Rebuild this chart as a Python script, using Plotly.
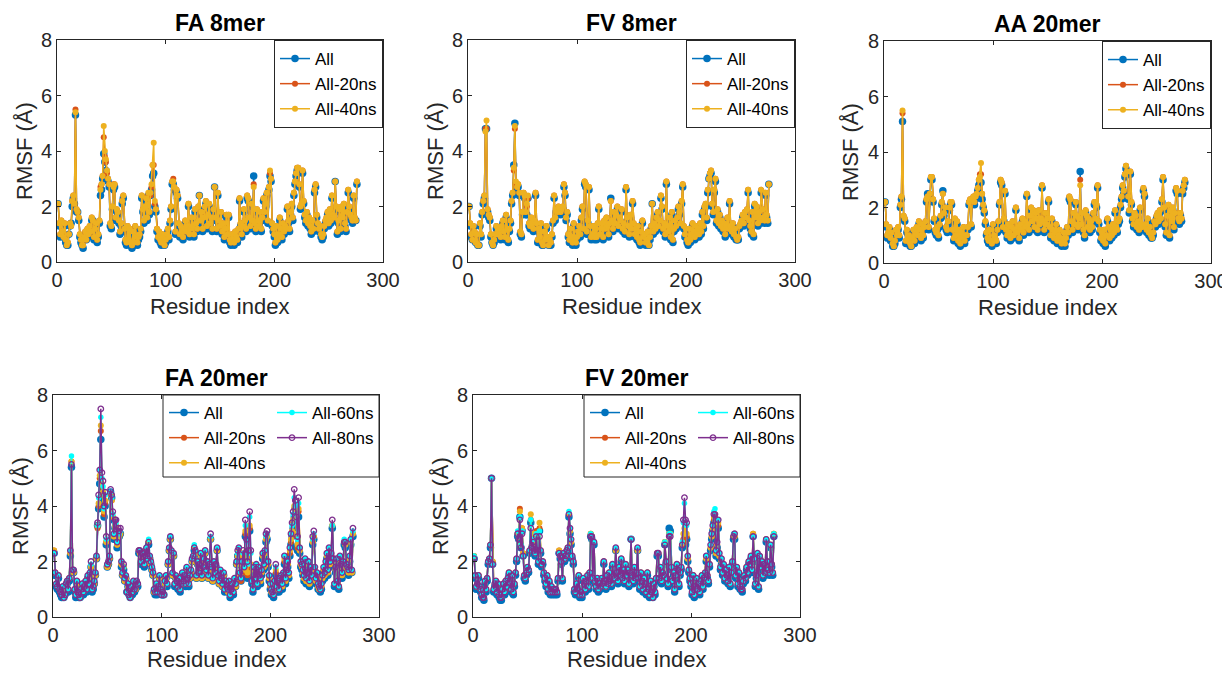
import plotly.graph_objects as go

#%% RMSF per residue (Angstrom)

fa8_all = [
    2.1, 1.3, 0.9, 1.4, 1.0, 0.9, 1.3, 0.7, 0.6, 0.6,
    1.0, 1.3, 1.4, 2.0, 2.3, 2.1, 5.3, 1.8, 1.8, 1.5,
    0.9, 0.7, 0.6, 0.5, 0.8, 1.0, 0.8, 1.1, 0.9, 1.2,
    1.0, 1.5, 1.5, 0.8, 1.1, 1.3, 0.7, 0.9, 1.4, 2.4,
    2.6, 3.0, 3.9, 3.6, 3.3, 3.0, 2.9, 2.7, 1.3, 1.2,
    1.9, 2.6, 2.7, 1.5, 1.8, 1.7, 1.4, 1.0, 1.3, 2.1,
    2.3, 1.1, 0.7, 0.6, 1.2, 0.8, 1.1, 0.6, 0.5, 1.0,
    0.6, 1.2, 0.8, 0.6, 0.8, 0.9, 1.1, 2.3, 1.8, 1.4,
    1.9, 2.2, 1.5, 2.4, 1.7, 2.4, 2.6, 3.1, 3.2, 2.0,
    1.8, 1.1, 0.8, 1.0, 0.7, 0.6, 0.9, 0.8, 0.6, 0.7,
    0.9, 1.1, 0.8, 1.4, 1.9, 2.8, 2.8, 2.6, 1.0, 2.5,
    2.3, 1.3, 0.9, 1.2, 1.0, 0.8, 1.1, 1.4, 1.0, 1.2,
    2.0, 0.9, 1.1, 1.5, 1.2, 0.9, 1.8, 1.3, 1.1, 1.9,
    2.4, 1.4, 1.7, 1.1, 1.5, 1.9, 2.1, 1.2, 1.6, 2.0,
    1.3, 1.5, 1.1, 1.8, 2.7, 1.5, 1.1, 2.4, 1.4, 1.2,
    1.7, 1.0, 1.3, 0.8, 1.1, 1.6, 0.9, 1.6, 0.7, 0.6,
    0.9, 0.7, 0.6, 1.0, 0.8, 0.7, 1.1, 2.2, 1.3, 0.9,
    1.2, 1.8, 1.4, 1.1, 2.3, 2.2, 1.5, 1.2, 2.0, 1.4,
    3.1, 1.3, 1.1, 1.8, 1.4, 1.2, 1.7, 1.1, 1.5, 2.2,
    1.7, 2.0, 2.4, 1.4, 2.6, 3.1, 2.9, 1.3, 1.1, 0.9,
    0.6, 1.2, 0.7, 0.9, 1.5, 1.1, 0.8, 1.3, 1.0, 1.2,
    1.1, 1.9, 1.4, 1.1, 1.7, 2.0, 1.5, 2.4, 2.8, 3.1,
    3.3, 3.3, 2.7, 1.9, 2.0, 3.2, 2.1, 1.6, 1.4, 1.7,
    1.3, 1.5, 1.2, 1.0, 1.4, 1.1, 2.5, 2.7, 1.6, 1.3,
    1.1, 1.2, 0.9, 0.8, 0.9, 1.2, 1.4, 1.5, 1.7, 1.3,
    1.8, 1.4, 2.3, 1.6, 1.5, 2.9, 1.9, 1.0, 1.4, 1.8,
    1.1, 1.9, 1.5, 2.0, 1.3, 1.1, 1.7, 2.5, 1.9, 1.6,
    1.5, 1.4, 2.3, 1.5, 1.5, 2.8]

fa8_20 = [
    2.1, 1.4, 1.0, 1.5, 1.1, 0.9, 1.4, 0.8, 0.6, 0.7,
    1.0, 1.4, 1.3, 2.2, 2.4, 2.1, 5.5, 1.9, 1.8, 1.6,
    1.0, 0.8, 0.6, 0.6, 0.9, 1.1, 0.8, 1.2, 1.0, 1.3,
    1.1, 1.6, 1.5, 0.9, 1.2, 1.4, 0.8, 1.0, 1.5, 2.7,
    2.8, 3.1, 4.5, 3.8, 3.6, 3.2, 3.0, 2.8, 1.4, 1.3,
    2.0, 2.8, 2.8, 1.6, 1.9, 1.8, 1.5, 1.1, 1.4, 2.2,
    2.4, 1.2, 0.8, 0.7, 1.3, 0.8, 1.2, 0.7, 0.6, 1.1,
    0.7, 1.3, 0.9, 0.7, 0.9, 1.0, 1.2, 2.4, 1.9, 1.5,
    2.0, 2.3, 1.6, 2.4, 1.8, 2.4, 2.7, 3.5, 3.5, 2.1,
    1.9, 1.2, 0.9, 1.1, 0.8, 0.7, 1.0, 0.9, 0.6, 0.8,
    1.0, 1.2, 0.9, 1.5, 2.0, 2.9, 3.0, 2.7, 1.1, 2.6,
    2.4, 1.4, 1.0, 1.3, 1.1, 0.9, 1.2, 1.5, 1.1, 1.3,
    2.1, 1.0, 1.2, 1.6, 1.3, 1.0, 1.9, 1.4, 1.2, 2.0,
    2.4, 1.5, 1.8, 1.2, 1.6, 2.0, 2.2, 1.3, 1.7, 2.1,
    1.4, 1.6, 1.2, 1.9, 2.7, 1.6, 1.2, 2.5, 1.5, 1.3,
    1.8, 1.1, 1.4, 0.9, 1.2, 1.7, 1.0, 1.7, 0.8, 0.7,
    1.0, 0.8, 0.7, 1.1, 0.9, 0.8, 1.2, 2.3, 1.4, 1.0,
    1.3, 1.9, 1.5, 1.2, 2.4, 2.3, 1.6, 1.3, 2.1, 1.5,
    2.8, 1.4, 1.2, 1.9, 1.5, 1.3, 1.8, 1.2, 1.6, 2.3,
    1.8, 2.1, 2.5, 1.5, 2.7, 3.2, 3.0, 1.4, 1.2, 1.0,
    0.7, 1.3, 0.8, 1.0, 1.6, 1.2, 0.9, 1.4, 1.1, 1.3,
    1.2, 2.0, 1.5, 1.2, 1.8, 2.1, 1.6, 2.5, 2.9, 3.2,
    3.4, 3.4, 2.8, 2.0, 2.1, 3.3, 2.2, 1.7, 1.5, 1.8,
    1.4, 1.6, 1.3, 1.1, 1.5, 1.2, 2.6, 2.8, 1.7, 1.4,
    1.2, 1.3, 1.0, 0.9, 1.0, 1.3, 1.5, 1.6, 1.8, 1.4,
    1.9, 1.5, 2.4, 1.7, 1.6, 2.9, 2.0, 1.1, 1.5, 1.9,
    1.2, 2.0, 1.6, 2.1, 1.4, 1.2, 1.8, 2.6, 2.0, 1.7,
    1.6, 1.5, 2.4, 1.6, 1.5, 2.9]

fa8_40 = [
    2.1, 1.4, 1.0, 1.5, 1.1, 0.9, 1.4, 0.8, 0.6, 0.7,
    1.0, 1.4, 1.3, 2.2, 2.4, 2.1, 5.4, 1.9, 1.8, 1.6,
    1.0, 0.8, 0.6, 0.6, 0.9, 1.1, 0.8, 1.2, 1.0, 1.3,
    1.1, 1.6, 1.5, 0.9, 1.2, 1.4, 0.8, 1.0, 1.5, 2.6,
    2.8, 3.1, 4.9, 4.0, 3.7, 3.3, 3.0, 2.8, 1.4, 1.3,
    2.0, 2.7, 2.8, 1.6, 1.9, 1.8, 1.5, 1.1, 1.4, 2.2,
    2.4, 1.2, 0.8, 0.7, 1.3, 0.8, 1.2, 0.7, 0.6, 1.1,
    0.7, 1.3, 0.9, 0.7, 0.9, 1.0, 1.2, 2.4, 1.9, 1.5,
    2.0, 2.3, 1.6, 2.5, 1.8, 2.5, 2.8, 3.5, 4.3, 2.2,
    1.9, 1.2, 0.9, 1.1, 0.8, 0.7, 1.0, 0.9, 0.6, 0.8,
    1.0, 1.2, 0.9, 1.5, 2.0, 2.9, 2.9, 2.7, 1.1, 2.6,
    2.4, 1.4, 1.0, 1.3, 1.1, 0.9, 1.2, 1.5, 1.1, 1.3,
    2.1, 1.0, 1.2, 1.6, 1.3, 1.0, 1.9, 1.4, 1.2, 2.0,
    2.4, 1.5, 1.8, 1.2, 1.6, 2.0, 2.2, 1.3, 1.7, 2.1,
    1.4, 1.6, 1.2, 1.9, 2.7, 1.6, 1.2, 2.5, 1.5, 1.3,
    1.8, 1.1, 1.4, 0.9, 1.2, 1.7, 1.0, 1.7, 0.8, 0.7,
    1.0, 0.8, 0.7, 1.1, 0.9, 0.8, 1.2, 2.3, 1.4, 1.0,
    1.3, 1.9, 1.5, 1.2, 2.4, 2.3, 1.6, 1.3, 2.1, 1.5,
    2.7, 1.4, 1.2, 1.9, 1.5, 1.3, 1.8, 1.2, 1.6, 2.3,
    1.8, 2.1, 2.5, 1.5, 2.7, 3.3, 3.0, 1.4, 1.2, 1.0,
    0.7, 1.3, 0.8, 1.0, 1.6, 1.2, 0.9, 1.4, 1.1, 1.3,
    1.2, 2.0, 1.5, 1.2, 1.8, 2.1, 1.6, 2.5, 2.9, 3.2,
    3.4, 3.4, 2.8, 2.0, 2.1, 3.3, 2.2, 1.7, 1.5, 1.8,
    1.4, 1.6, 1.3, 1.1, 1.5, 1.2, 2.6, 2.8, 1.7, 1.4,
    1.2, 1.3, 1.0, 0.9, 1.0, 1.3, 1.5, 1.6, 1.8, 1.4,
    1.9, 1.5, 2.4, 1.7, 1.6, 2.9, 2.0, 1.1, 1.5, 1.9,
    1.2, 2.0, 1.6, 2.1, 1.4, 1.2, 1.8, 2.6, 2.0, 1.7,
    1.6, 1.5, 2.4, 1.6, 1.5, 2.9]

fv8_all = [
    2.0, 1.3, 0.9, 0.8, 1.2, 1.0, 0.7, 0.9, 0.6, 0.6,
    1.3, 0.9, 1.7, 2.1, 2.3, 4.8, 4.8, 1.8, 1.6, 1.5,
    0.9, 0.7, 0.6, 0.7, 0.9, 1.2, 0.9, 1.0, 1.1, 0.8,
    1.2, 1.4, 1.0, 0.8, 1.6, 1.1, 0.7, 1.1, 1.4, 2.1,
    2.4, 3.5, 5.0, 2.8, 2.6, 2.7, 2.4, 1.0, 0.9, 1.7,
    2.4, 2.3, 1.7, 1.7, 2.3, 1.3, 1.2, 1.5, 1.3, 1.1,
    1.4, 2.4, 1.3, 0.7, 1.1, 0.8, 1.3, 0.6, 0.6, 1.0,
    0.7, 1.2, 0.8, 0.6, 0.7, 0.6, 0.9, 1.4, 2.3, 1.5,
    1.8, 1.7, 1.9, 1.8, 1.7, 1.8, 1.9, 2.7, 2.4, 1.5,
    1.7, 0.9, 0.7, 1.1, 0.8, 0.6, 1.3, 0.7, 0.6, 0.8,
    1.0, 1.2, 0.9, 1.5, 1.9, 1.1, 2.8, 2.7, 1.0, 1.4,
    2.6, 1.2, 0.8, 0.9, 1.2, 0.8, 1.1, 0.8, 1.3, 1.9,
    0.9, 1.1, 1.3, 0.8, 1.4, 1.1, 1.5, 1.2, 0.9, 1.3,
    2.3, 1.4, 1.1, 1.7, 1.3, 1.6, 1.9, 1.2, 1.5, 1.4,
    1.8, 1.1, 1.3, 1.0, 2.6, 1.5, 1.2, 0.9, 1.6, 1.1,
    2.1, 1.3, 0.9, 1.1, 0.8, 1.2, 0.7, 0.6, 1.0, 1.4,
    0.8, 0.9, 0.6, 0.7, 1.0, 0.6, 0.8, 1.2, 2.1, 1.0,
    1.3, 1.1, 1.5, 1.7, 1.2, 1.4, 2.3, 1.9, 1.1, 1.3,
    0.9, 2.8, 1.2, 1.0, 1.5, 0.8, 1.7, 0.7, 1.1, 1.4,
    1.2, 1.5, 1.9, 1.7, 1.3, 2.1, 2.7, 1.2, 0.9, 1.1,
    0.7, 0.6, 1.1, 0.7, 0.9, 1.3, 1.0, 0.8, 1.2, 0.9,
    1.1, 0.9, 1.3, 1.0, 1.7, 1.2, 1.9, 2.0, 1.5, 2.5,
    3.0, 3.1, 3.2, 2.0, 1.7, 2.5, 2.9, 1.4, 1.8, 1.3,
    1.6, 1.2, 1.4, 1.1, 1.3, 0.9, 1.2, 1.5, 1.1, 2.1,
    1.2, 1.0, 1.3, 0.9, 1.1, 0.8, 0.8, 0.8, 1.2, 1.3,
    1.4, 1.6, 1.3, 1.7, 1.5, 1.8, 2.5, 1.4, 1.2, 1.0,
    1.7, 0.9, 2.0, 1.5, 1.9, 1.3, 1.7, 1.4, 2.5, 1.8,
    1.5, 1.4, 2.4, 1.6, 1.4, 2.8]

fv8_20 = [
    2.0, 1.4, 1.0, 0.8, 1.3, 1.1, 0.7, 1.0, 0.6, 0.6,
    1.4, 1.0, 1.8, 2.2, 2.4, 4.8, 4.8, 1.9, 1.7, 1.6,
    1.0, 0.7, 0.6, 0.8, 1.0, 1.3, 1.0, 1.1, 1.2, 0.9,
    1.3, 1.5, 1.1, 0.9, 1.7, 1.2, 0.8, 1.2, 1.5, 2.2,
    2.5, 3.3, 4.8, 2.8, 2.7, 2.8, 2.5, 1.1, 1.0, 1.8,
    2.5, 2.4, 1.8, 2.0, 2.3, 1.4, 1.3, 1.6, 1.4, 1.2,
    1.5, 2.5, 1.4, 0.8, 1.2, 0.9, 1.4, 0.7, 0.6, 1.1,
    0.8, 1.3, 0.9, 0.6, 0.8, 0.7, 1.0, 1.5, 2.4, 1.6,
    1.9, 1.8, 2.0, 1.9, 1.8, 1.9, 2.0, 2.8, 2.5, 1.6,
    1.8, 1.0, 0.8, 1.2, 0.9, 0.7, 1.4, 0.8, 0.7, 0.9,
    1.1, 1.3, 1.0, 1.6, 2.0, 1.2, 2.9, 2.8, 1.1, 1.5,
    2.7, 1.3, 0.9, 1.0, 1.3, 0.9, 1.2, 0.9, 1.4, 2.0,
    1.0, 1.2, 1.4, 0.9, 1.5, 1.2, 1.6, 1.3, 1.0, 1.4,
    2.2, 1.5, 1.2, 1.8, 1.4, 1.7, 2.0, 1.3, 1.6, 1.5,
    1.9, 1.2, 1.4, 1.1, 2.7, 1.6, 1.3, 1.0, 1.7, 1.2,
    2.2, 1.4, 1.0, 1.2, 0.9, 1.3, 0.8, 0.7, 1.1, 1.5,
    0.9, 1.0, 0.7, 0.8, 1.1, 0.6, 0.9, 1.3, 2.1, 1.1,
    1.4, 1.2, 1.6, 1.8, 1.3, 1.5, 2.4, 2.0, 1.2, 1.4,
    1.0, 2.9, 1.3, 1.1, 1.6, 0.9, 1.8, 0.8, 1.2, 1.5,
    1.3, 1.6, 2.0, 1.8, 1.4, 2.2, 2.8, 1.3, 1.0, 1.2,
    0.8, 0.7, 1.2, 0.8, 1.0, 1.4, 1.1, 0.9, 1.3, 1.0,
    1.2, 1.0, 1.4, 1.1, 1.8, 1.3, 2.0, 2.1, 1.6, 2.6,
    3.0, 3.2, 3.3, 2.1, 1.8, 2.6, 3.0, 1.5, 1.9, 1.4,
    1.7, 1.3, 1.5, 1.2, 1.4, 1.0, 1.3, 1.6, 1.2, 2.2,
    1.3, 1.1, 1.4, 1.0, 1.2, 0.9, 0.8, 0.9, 1.3, 1.4,
    1.5, 1.7, 1.4, 1.8, 1.6, 1.9, 2.6, 1.5, 1.3, 1.1,
    1.8, 1.0, 2.1, 1.6, 2.0, 1.4, 1.8, 1.5, 2.6, 1.9,
    1.6, 1.5, 2.5, 1.7, 1.5, 2.8]

fv8_40 = [
    2.0, 1.4, 1.0, 0.8, 1.3, 1.1, 0.7, 1.0, 0.6, 0.6,
    1.4, 1.0, 1.8, 2.2, 2.4, 4.7, 5.1, 1.9, 1.7, 1.6,
    1.0, 0.7, 0.6, 0.8, 1.0, 1.3, 1.0, 1.1, 1.2, 0.9,
    1.3, 1.5, 1.1, 0.9, 1.7, 1.2, 0.8, 1.2, 1.5, 2.2,
    2.5, 3.4, 4.9, 2.9, 2.7, 2.8, 2.5, 1.1, 1.0, 1.8,
    2.5, 2.4, 1.8, 2.1, 2.4, 1.4, 1.3, 1.6, 1.4, 1.2,
    1.5, 2.5, 1.4, 0.8, 1.2, 0.9, 1.4, 0.7, 0.6, 1.1,
    0.8, 1.3, 0.9, 0.6, 0.8, 0.7, 1.0, 1.5, 2.4, 1.6,
    1.9, 1.8, 2.0, 1.9, 1.8, 1.9, 2.0, 2.8, 2.5, 1.6,
    1.8, 1.0, 0.8, 1.2, 0.9, 0.7, 1.4, 0.8, 0.7, 0.9,
    1.1, 1.3, 1.0, 1.6, 2.0, 1.2, 2.9, 2.8, 1.1, 1.5,
    2.7, 1.3, 0.9, 1.0, 1.3, 0.9, 1.2, 0.9, 1.4, 2.0,
    1.0, 1.2, 1.4, 0.9, 1.5, 1.2, 1.6, 1.3, 1.0, 1.4,
    2.2, 1.5, 1.2, 1.8, 1.4, 1.7, 2.0, 1.3, 1.6, 1.5,
    1.9, 1.2, 1.4, 1.1, 2.7, 1.6, 1.3, 1.0, 1.7, 1.2,
    2.2, 1.4, 1.0, 1.2, 0.9, 1.3, 0.8, 0.7, 1.1, 1.5,
    0.9, 1.0, 0.7, 0.8, 1.1, 0.6, 0.9, 1.3, 2.1, 1.1,
    1.4, 1.2, 1.6, 1.8, 1.3, 1.5, 2.4, 2.0, 1.2, 1.4,
    1.0, 2.9, 1.3, 1.1, 1.6, 0.9, 1.8, 0.8, 1.2, 1.5,
    1.3, 1.6, 2.0, 1.8, 1.4, 2.2, 2.8, 1.3, 1.0, 1.2,
    0.8, 0.7, 1.2, 0.8, 1.0, 1.4, 1.1, 0.9, 1.3, 1.0,
    1.2, 1.0, 1.4, 1.1, 1.8, 1.3, 2.0, 2.1, 1.6, 2.6,
    3.0, 3.2, 3.3, 2.1, 1.8, 2.6, 3.0, 1.5, 1.9, 1.4,
    1.7, 1.3, 1.5, 1.2, 1.4, 1.0, 1.3, 1.6, 1.2, 2.2,
    1.3, 1.1, 1.4, 1.0, 1.2, 0.9, 0.8, 0.9, 1.3, 1.4,
    1.5, 1.7, 1.4, 1.8, 1.6, 1.9, 2.6, 1.5, 1.3, 1.1,
    1.8, 1.0, 2.1, 1.6, 2.0, 1.4, 1.8, 1.5, 2.6, 1.9,
    1.6, 1.5, 2.5, 1.7, 1.5, 2.8]

aa20_all = [
    2.2, 1.3, 0.9, 1.0, 1.2, 0.8, 1.0, 0.6, 0.6, 0.7,
    1.1, 0.9, 1.2, 0.9, 2.0, 2.3, 5.1, 1.6, 1.5, 0.7,
    1.1, 0.7, 0.9, 0.6, 0.6, 0.8, 1.1, 0.7, 1.0, 1.2,
    0.9, 1.4, 1.1, 0.8, 1.3, 0.9, 1.2, 1.4, 2.2, 2.5,
    1.2, 2.4, 3.0, 3.0, 2.2, 1.5, 1.1, 1.0, 1.2, 0.9,
    1.3, 1.6, 2.1, 2.6, 1.7, 1.9, 1.2, 1.1, 1.4, 1.9,
    2.1, 2.1, 1.1, 0.8, 1.5, 0.9, 1.4, 0.7, 1.1, 0.6,
    1.0, 0.8, 1.2, 0.7, 0.9, 0.9, 1.2, 2.1, 2.2, 1.3,
    2.2, 2.3, 2.1, 2.3, 2.4, 2.6, 2.8, 2.9, 2.9, 2.3,
    2.0, 1.8, 1.4, 1.0, 0.8, 0.7, 1.1, 0.7, 0.6, 1.3,
    0.9, 0.8, 0.7, 1.1, 1.4, 2.1, 2.9, 2.8, 1.2, 1.5,
    2.5, 1.1, 0.9, 1.3, 1.0, 0.8, 1.2, 1.4, 0.9, 1.1,
    1.9, 1.0, 1.2, 0.8, 1.3, 1.1, 1.5, 1.0, 1.4, 1.2,
    2.4, 1.3, 1.1, 1.6, 1.9, 1.4, 1.8, 1.2, 1.7, 1.5,
    1.1, 1.8, 1.3, 1.5, 2.7, 1.4, 1.1, 1.7, 1.3, 1.5,
    2.2, 1.2, 0.9, 1.5, 1.1, 0.8, 1.0, 1.3, 0.7, 0.9,
    1.1, 0.8, 0.6, 0.7, 1.0, 0.6, 0.8, 1.2, 1.0, 2.3,
    2.2, 1.4, 1.1, 1.7, 1.3, 2.1, 1.6, 1.2, 1.5, 3.3,
    1.3, 1.7, 1.1, 0.9, 1.8, 1.6, 1.2, 1.5, 1.1, 1.4,
    1.2, 1.7, 2.1, 1.5, 2.0, 2.7, 1.4, 1.1, 0.8, 1.0,
    0.7, 1.1, 0.6, 0.9, 1.5, 1.2, 0.8, 1.1, 0.9, 1.3,
    1.0, 1.8, 1.2, 1.1, 1.4, 1.5, 2.0, 2.3, 2.7, 2.5,
    3.1, 3.4, 3.2, 2.3, 1.8, 3.2, 2.1, 1.5, 1.3, 1.7,
    1.6, 1.2, 1.4, 1.1, 1.9, 1.3, 1.2, 2.6, 2.4, 1.3,
    1.1, 1.5, 1.0, 1.2, 0.9, 0.9, 1.0, 1.4, 1.3, 1.6,
    1.7, 1.4, 1.8, 1.5, 2.2, 3.0, 1.9, 1.3, 1.0, 1.6,
    2.0, 0.9, 1.8, 1.4, 1.9, 1.2, 1.7, 2.6, 2.5, 1.5,
    1.4, 1.7, 1.5, 2.5, 2.7, 2.9]

aa20_20 = [
    2.2, 1.4, 1.0, 1.1, 1.3, 0.9, 1.1, 0.7, 0.6, 0.8,
    1.2, 1.0, 1.3, 1.0, 2.1, 2.4, 5.4, 1.7, 1.6, 0.8,
    1.2, 0.8, 1.0, 0.7, 0.6, 0.9, 1.2, 0.8, 1.1, 1.3,
    1.0, 1.5, 1.2, 0.9, 1.4, 1.0, 1.3, 1.5, 2.3, 2.4,
    1.3, 2.5, 3.1, 3.1, 2.3, 1.6, 1.2, 1.1, 1.3, 1.0,
    1.4, 1.7, 2.2, 2.5, 1.8, 2.0, 1.3, 1.2, 1.5, 2.0,
    2.2, 2.2, 1.2, 0.9, 1.6, 1.0, 1.5, 0.8, 1.2, 0.7,
    1.1, 0.9, 1.3, 0.8, 1.0, 1.0, 1.3, 2.2, 2.3, 1.4,
    2.3, 2.4, 2.2, 2.4, 2.5, 2.7, 3.0, 3.2, 3.2, 2.5,
    2.1, 1.9, 1.5, 1.1, 0.9, 0.8, 1.2, 0.8, 0.7, 1.4,
    1.0, 0.9, 0.8, 1.2, 1.5, 2.2, 3.0, 2.9, 1.3, 1.6,
    2.6, 1.2, 1.0, 1.4, 1.1, 0.9, 1.3, 1.5, 1.0, 1.2,
    2.0, 1.1, 1.3, 0.9, 1.4, 1.2, 1.6, 1.1, 1.5, 1.3,
    2.5, 1.4, 1.2, 1.7, 2.0, 1.5, 1.9, 1.3, 1.8, 1.6,
    1.2, 1.9, 1.4, 1.6, 2.8, 1.5, 1.2, 1.8, 1.4, 1.6,
    2.3, 1.3, 1.0, 1.6, 1.2, 0.9, 1.1, 1.4, 0.8, 1.0,
    1.2, 0.9, 0.7, 0.8, 1.1, 0.7, 0.9, 1.3, 1.1, 2.4,
    2.3, 1.5, 1.2, 1.8, 1.4, 2.2, 1.7, 1.3, 1.6, 3.0,
    1.4, 1.8, 1.2, 1.0, 1.9, 1.7, 1.3, 1.6, 1.2, 1.5,
    1.3, 1.8, 2.2, 1.6, 2.1, 2.8, 1.5, 1.2, 0.9, 1.1,
    0.8, 1.2, 0.7, 1.0, 1.6, 1.3, 0.9, 1.2, 1.0, 1.4,
    1.1, 1.9, 1.3, 1.2, 1.5, 1.6, 2.1, 2.4, 2.8, 2.6,
    3.2, 3.5, 3.3, 2.4, 1.9, 3.3, 2.2, 1.6, 1.4, 1.8,
    1.7, 1.3, 1.5, 1.2, 2.0, 1.4, 1.3, 2.7, 2.5, 1.4,
    1.2, 1.6, 1.1, 1.3, 1.0, 0.9, 1.1, 1.5, 1.4, 1.7,
    1.8, 1.5, 1.9, 1.6, 2.3, 3.1, 2.0, 1.4, 1.1, 1.7,
    2.1, 1.0, 1.9, 1.5, 2.0, 1.3, 1.8, 2.7, 2.6, 1.6,
    1.5, 1.8, 1.6, 2.6, 2.8, 3.0]

aa20_40 = [
    2.2, 1.4, 1.0, 1.1, 1.3, 0.9, 1.1, 0.7, 0.6, 0.8,
    1.2, 1.0, 1.3, 1.0, 2.1, 2.4, 5.5, 1.7, 1.6, 0.8,
    1.2, 0.8, 1.0, 0.7, 0.6, 0.9, 1.2, 0.8, 1.1, 1.3,
    1.0, 1.5, 1.2, 0.9, 1.4, 1.0, 1.3, 1.5, 2.3, 2.4,
    1.3, 2.5, 3.1, 3.1, 2.3, 1.6, 1.2, 1.1, 1.3, 1.0,
    1.4, 1.7, 2.2, 2.5, 1.8, 2.0, 1.3, 1.2, 1.5, 2.0,
    2.2, 2.2, 1.2, 0.9, 1.6, 1.0, 1.5, 0.8, 1.2, 0.7,
    1.1, 0.9, 1.3, 0.8, 1.0, 1.0, 1.3, 2.2, 2.3, 1.4,
    2.3, 2.4, 2.2, 2.4, 2.5, 2.7, 3.0, 3.1, 3.6, 2.5,
    2.1, 1.9, 1.5, 1.1, 0.9, 0.8, 1.2, 0.8, 0.7, 1.4,
    1.0, 0.9, 0.8, 1.2, 1.5, 2.2, 3.0, 2.9, 1.3, 1.6,
    2.6, 1.2, 1.0, 1.4, 1.1, 0.9, 1.3, 1.5, 1.0, 1.2,
    2.0, 1.1, 1.3, 0.9, 1.4, 1.2, 1.6, 1.1, 1.5, 1.3,
    2.5, 1.4, 1.2, 1.7, 2.0, 1.5, 1.9, 1.3, 1.8, 1.6,
    1.2, 1.9, 1.4, 1.6, 2.8, 1.5, 1.2, 1.8, 1.4, 1.6,
    2.3, 1.3, 1.0, 1.6, 1.2, 0.9, 1.1, 1.4, 0.8, 1.0,
    1.2, 0.9, 0.7, 0.8, 1.1, 0.7, 0.9, 1.3, 1.1, 2.4,
    2.3, 1.5, 1.2, 1.8, 1.4, 2.2, 1.7, 1.3, 1.6, 2.8,
    1.4, 1.8, 1.2, 1.0, 1.9, 1.7, 1.3, 1.6, 1.2, 1.5,
    1.3, 1.8, 2.2, 1.6, 2.1, 2.8, 1.5, 1.2, 0.9, 1.1,
    0.8, 1.2, 0.7, 1.0, 1.6, 1.3, 0.9, 1.2, 1.0, 1.4,
    1.1, 1.9, 1.3, 1.2, 1.5, 1.6, 2.1, 2.4, 2.8, 2.6,
    3.2, 3.5, 3.3, 2.4, 1.9, 3.3, 2.2, 1.6, 1.4, 1.8,
    1.7, 1.3, 1.5, 1.2, 2.0, 1.4, 1.3, 2.7, 2.5, 1.4,
    1.2, 1.6, 1.1, 1.3, 1.0, 0.9, 1.1, 1.5, 1.4, 1.7,
    1.8, 1.5, 1.9, 1.6, 2.3, 3.1, 2.0, 1.4, 1.1, 1.7,
    2.1, 1.0, 1.9, 1.5, 2.0, 1.3, 1.8, 2.7, 2.6, 1.6,
    1.5, 1.8, 1.6, 2.6, 2.8, 3.0]

fa20_all = [
    2.3, 1.5, 1.1, 1.0, 1.4, 0.9, 0.8, 0.7, 1.0, 0.7,
    0.8, 1.1, 1.2, 0.9, 1.3, 2.2, 5.4, 1.6, 1.6, 0.9,
    0.7, 1.2, 0.8, 0.7, 0.7, 0.9, 1.1, 0.8, 1.0, 1.2,
    0.9, 1.4, 1.1, 1.5, 1.8, 0.9, 1.0, 1.2, 1.5, 2.1,
    3.3, 3.9, 4.8, 6.4, 4.5, 4.2, 3.6, 4.0, 2.6, 1.8,
    1.9, 2.1, 4.5, 4.3, 3.5, 2.8, 3.2, 3.1, 2.5, 2.9,
    2.9, 3.0, 1.8, 1.5, 1.7, 1.3, 1.4, 0.9, 1.1, 0.8,
    0.7, 1.0, 0.8, 1.2, 0.9, 1.0, 1.2, 1.1, 2.3, 2.3,
    1.9, 2.2, 2.2, 1.8, 2.1, 2.4, 2.0, 2.6, 2.1, 1.9,
    1.7, 1.5, 0.9, 0.8, 1.1, 0.8, 1.0, 1.4, 0.9, 0.8,
    0.8, 0.8, 1.2, 1.4, 1.1, 1.9, 2.4, 2.8, 2.3, 1.5,
    2.2, 1.1, 1.4, 1.2, 1.0, 1.3, 0.9, 1.1, 1.5, 1.2,
    1.4, 1.1, 1.7, 1.3, 1.1, 1.4, 1.6, 2.0, 2.1, 2.4,
    2.3, 1.4, 1.9, 1.5, 1.8, 2.2, 1.4, 1.7, 2.0, 2.3,
    1.6, 1.9, 1.4, 1.8, 2.8, 1.7, 1.3, 1.9, 1.5, 1.8,
    2.4, 1.4, 1.2, 1.6, 1.3, 1.1, 1.5, 0.9, 1.2, 1.0,
    0.9, 1.2, 0.7, 0.9, 1.1, 0.8, 1.3, 1.1, 1.9, 2.2,
    2.3, 1.5, 1.3, 1.8, 2.0, 1.5, 2.9, 2.0, 1.4, 1.7,
    3.1, 1.5, 1.2, 0.9, 1.6, 1.2, 1.7, 1.1, 1.6, 1.3,
    1.2, 1.5, 2.1, 1.7, 2.2, 2.7, 2.8, 1.8, 1.3, 1.0,
    0.8, 0.8, 0.7, 1.1, 1.5, 0.9, 1.1, 0.9, 1.2, 1.3,
    1.0, 1.4, 1.9, 1.2, 1.5, 1.8, 1.4, 2.2, 2.6, 2.9,
    3.2, 3.6, 3.4, 2.5, 2.4, 3.6, 2.3, 1.8, 1.7, 1.5,
    1.3, 1.9, 1.2, 1.4, 1.8, 1.1, 1.6, 1.3, 2.6, 2.8,
    1.6, 1.2, 1.4, 1.0, 1.0, 0.9, 1.0, 1.3, 1.6, 1.4,
    1.8, 2.1, 1.5, 2.3, 1.8, 2.1, 3.2, 1.9, 1.1, 1.6,
    1.9, 1.1, 1.0, 2.0, 1.7, 1.4, 1.8, 2.6, 2.5, 1.7,
    1.6, 1.5, 2.0, 2.6, 1.6, 2.9]

fa20_20 = [
    2.4, 1.6, 1.2, 1.1, 1.5, 1.0, 0.9, 0.8, 1.0, 0.7,
    0.8, 1.2, 1.3, 1.0, 1.4, 2.3, 5.6, 1.7, 1.6, 1.0,
    0.8, 1.2, 0.9, 0.8, 0.7, 1.0, 1.2, 0.9, 1.1, 1.2,
    1.0, 1.4, 1.2, 1.5, 1.8, 1.0, 1.1, 1.2, 1.5, 2.1,
    3.2, 4.0, 5.0, 6.7, 4.7, 4.4, 3.7, 4.1, 2.7, 1.8,
    1.9, 2.1, 4.4, 4.2, 3.6, 2.9, 3.3, 3.2, 2.6, 3.0,
    2.9, 3.0, 1.9, 1.5, 1.8, 1.3, 1.4, 0.9, 1.1, 0.8,
    0.7, 1.0, 0.9, 1.2, 1.0, 1.0, 1.2, 1.2, 2.4, 2.3,
    2.0, 2.2, 2.3, 1.9, 2.1, 2.4, 2.0, 2.7, 2.1, 1.9,
    1.7, 1.5, 0.9, 0.9, 1.1, 0.9, 1.0, 1.4, 0.9, 0.8,
    0.9, 0.8, 1.2, 1.4, 1.2, 1.9, 2.4, 2.8, 2.3, 1.5,
    2.2, 1.2, 1.4, 1.2, 1.1, 1.3, 1.0, 1.2, 1.5, 1.3,
    1.4, 1.2, 1.7, 1.3, 1.2, 1.4, 1.6, 2.0, 2.1, 2.5,
    2.3, 1.4, 1.9, 1.5, 1.8, 2.2, 1.4, 1.7, 2.0, 2.3,
    1.6, 1.9, 1.4, 1.8, 2.8, 1.7, 1.3, 1.9, 1.5, 1.8,
    2.4, 1.4, 1.2, 1.6, 1.3, 1.1, 1.5, 1.0, 1.2, 1.0,
    0.9, 1.2, 0.8, 0.9, 1.1, 0.9, 1.3, 1.1, 1.9, 2.2,
    2.4, 1.5, 1.3, 1.8, 2.1, 1.6, 3.0, 2.2, 1.5, 1.9,
    3.2, 1.7, 1.3, 1.0, 1.7, 1.3, 1.8, 1.2, 1.7, 1.4,
    1.3, 1.6, 2.2, 1.8, 2.3, 2.8, 2.9, 1.9, 1.4, 1.1,
    0.9, 0.9, 0.8, 1.2, 1.6, 1.0, 1.2, 1.0, 1.3, 1.4,
    1.1, 1.5, 2.0, 1.3, 1.6, 1.9, 1.5, 2.3, 2.7, 3.0,
    3.4, 3.9, 3.6, 2.9, 2.5, 3.8, 2.4, 1.9, 1.8, 1.6,
    1.4, 2.0, 1.3, 1.5, 1.9, 1.2, 1.7, 1.4, 2.7, 2.9,
    1.7, 1.3, 1.5, 1.1, 1.0, 1.0, 1.1, 1.4, 1.7, 1.5,
    1.9, 2.2, 1.6, 2.4, 1.9, 2.2, 3.3, 2.0, 1.2, 1.7,
    2.0, 1.2, 1.1, 2.1, 1.8, 1.5, 1.9, 2.7, 2.6, 1.8,
    1.7, 1.6, 2.1, 2.7, 1.6, 3.0]

fa20_40 = [
    2.4, 1.6, 1.2, 1.1, 1.5, 1.0, 0.9, 0.8, 1.0, 0.7,
    0.8, 1.2, 1.3, 1.0, 1.4, 2.3, 5.6, 1.7, 1.6, 1.0,
    0.8, 1.2, 0.9, 0.8, 0.7, 1.0, 1.2, 0.9, 1.1, 1.2,
    1.0, 1.4, 1.2, 1.5, 1.8, 1.0, 1.1, 1.2, 1.5, 2.1,
    3.3, 4.1, 5.1, 6.9, 4.8, 4.5, 3.8, 4.2, 2.7, 1.8,
    1.9, 2.1, 4.4, 4.2, 3.6, 2.9, 3.3, 3.3, 2.6, 3.0,
    2.9, 3.0, 1.9, 1.5, 1.8, 1.3, 1.4, 0.9, 1.1, 0.8,
    0.7, 1.0, 0.9, 1.2, 1.0, 1.0, 1.2, 1.2, 2.4, 2.3,
    2.0, 2.2, 2.3, 1.9, 2.1, 2.4, 2.0, 2.7, 2.1, 1.9,
    1.7, 1.5, 0.9, 0.9, 1.1, 0.9, 1.0, 1.4, 0.9, 0.8,
    0.9, 0.8, 1.2, 1.4, 1.2, 1.9, 2.4, 2.8, 2.3, 1.5,
    2.2, 1.2, 1.4, 1.2, 1.1, 1.3, 1.0, 1.2, 1.5, 1.3,
    1.4, 1.2, 1.7, 1.3, 1.2, 1.4, 1.6, 2.0, 2.1, 2.5,
    2.3, 1.4, 1.9, 1.5, 1.8, 2.2, 1.4, 1.7, 2.0, 2.3,
    1.6, 1.9, 1.4, 1.8, 2.8, 1.7, 1.3, 1.9, 1.5, 1.8,
    2.4, 1.4, 1.2, 1.6, 1.3, 1.1, 1.5, 1.0, 1.2, 1.0,
    0.9, 1.2, 0.8, 0.9, 1.1, 0.9, 1.3, 1.1, 1.9, 2.2,
    2.4, 1.5, 1.4, 1.9, 2.2, 1.7, 3.1, 2.4, 1.6, 2.0,
    3.3, 1.9, 1.3, 1.0, 1.7, 1.3, 1.8, 1.2, 1.7, 1.4,
    1.3, 1.6, 2.2, 1.8, 2.3, 2.8, 2.9, 1.9, 1.4, 1.1,
    0.9, 0.9, 0.8, 1.2, 1.7, 1.0, 1.2, 1.0, 1.3, 1.4,
    1.1, 1.5, 2.1, 1.3, 1.6, 1.9, 1.5, 2.4, 2.8, 3.1,
    3.5, 4.0, 3.7, 3.0, 2.6, 3.9, 2.4, 1.9, 1.8, 1.6,
    1.4, 2.0, 1.3, 1.5, 1.9, 1.2, 1.7, 1.4, 2.7, 2.9,
    1.7, 1.3, 1.5, 1.1, 1.0, 1.0, 1.1, 1.4, 1.7, 1.5,
    1.9, 2.2, 1.6, 2.4, 1.9, 2.2, 3.3, 2.0, 1.2, 1.7,
    2.0, 1.2, 1.1, 2.1, 1.8, 1.5, 1.9, 2.7, 2.6, 1.8,
    1.7, 1.6, 2.1, 2.7, 1.6, 3.0]

fa20_60 = [
    2.3, 1.6, 1.2, 1.1, 1.5, 1.0, 0.9, 0.8, 1.1, 0.7,
    0.8, 1.2, 1.3, 1.0, 1.4, 2.4, 5.8, 1.7, 1.7, 1.0,
    0.8, 1.3, 0.9, 0.8, 0.7, 1.0, 1.2, 0.9, 1.1, 1.3,
    1.0, 1.5, 1.2, 1.6, 1.9, 1.0, 1.1, 1.3, 1.6, 2.2,
    3.3, 4.3, 5.3, 7.2, 5.0, 4.7, 3.9, 4.4, 2.8, 1.9,
    2.0, 2.2, 4.5, 4.3, 3.7, 3.0, 3.4, 3.4, 2.7, 3.1,
    3.0, 3.1, 2.0, 1.6, 1.8, 1.4, 1.5, 0.9, 1.2, 0.8,
    0.7, 1.1, 0.9, 1.3, 1.0, 1.1, 1.3, 1.2, 2.4, 2.4,
    2.0, 2.3, 2.3, 1.9, 2.2, 2.5, 2.1, 2.8, 2.2, 2.0,
    1.8, 1.6, 1.0, 0.9, 1.2, 0.9, 1.1, 1.5, 1.0, 0.8,
    0.9, 0.8, 1.3, 1.5, 1.2, 2.0, 2.5, 2.9, 2.4, 1.6,
    2.3, 1.2, 1.5, 1.3, 1.1, 1.4, 1.0, 1.2, 1.6, 1.3,
    1.5, 1.2, 1.8, 1.4, 1.2, 1.5, 1.7, 2.1, 2.2, 2.6,
    2.4, 1.5, 2.0, 1.6, 1.9, 2.3, 1.5, 1.8, 2.1, 2.4,
    1.7, 2.0, 1.5, 1.9, 2.9, 1.8, 1.4, 2.0, 1.6, 1.9,
    2.5, 1.5, 1.3, 1.7, 1.4, 1.2, 1.6, 1.0, 1.3, 1.1,
    1.0, 1.3, 0.8, 1.0, 1.2, 0.9, 1.4, 1.2, 2.0, 2.3,
    2.5, 1.6, 1.4, 2.0, 2.3, 1.8, 3.3, 2.7, 1.9, 2.3,
    3.6, 2.3, 1.3, 1.0, 1.8, 1.4, 1.9, 1.2, 1.8, 1.5,
    1.4, 1.7, 2.3, 1.9, 2.4, 2.9, 3.0, 2.0, 1.5, 1.2,
    1.0, 0.9, 0.8, 1.3, 1.8, 1.1, 1.3, 1.0, 1.4, 1.5,
    1.2, 1.6, 2.2, 1.4, 1.7, 2.0, 1.6, 2.5, 3.0, 3.3,
    3.7, 4.3, 4.0, 3.4, 2.8, 4.1, 2.5, 2.0, 1.9, 1.7,
    1.5, 2.1, 1.4, 1.6, 2.0, 1.3, 1.8, 1.5, 2.8, 3.0,
    1.8, 1.4, 1.6, 1.2, 1.1, 1.0, 1.2, 1.5, 1.8, 1.6,
    2.0, 2.3, 1.7, 2.5, 2.0, 2.3, 3.3, 2.1, 1.2, 1.8,
    2.1, 1.3, 1.1, 2.2, 1.9, 1.6, 2.0, 2.8, 2.7, 1.9,
    1.8, 1.7, 2.2, 2.8, 1.7, 3.1]

fa20_80 = [
    2.3, 1.6, 1.2, 1.1, 1.5, 1.0, 0.9, 0.8, 1.1, 0.7,
    0.8, 1.2, 1.3, 1.0, 1.4, 2.4, 5.5, 1.7, 1.7, 1.0,
    0.8, 1.3, 0.9, 0.8, 0.7, 1.0, 1.2, 0.9, 1.1, 1.3,
    1.0, 1.5, 1.2, 1.6, 2.0, 1.0, 1.1, 1.3, 1.6, 2.2,
    3.4, 4.4, 5.3, 7.5, 5.2, 4.9, 4.0, 4.5, 2.9, 1.9,
    2.0, 2.2, 4.6, 4.4, 3.8, 3.0, 3.5, 3.5, 2.7, 3.2,
    3.1, 3.2, 2.0, 1.6, 1.9, 1.4, 1.5, 0.9, 1.2, 0.8,
    0.7, 1.1, 0.9, 1.3, 1.0, 1.1, 1.3, 1.2, 2.4, 2.4,
    2.0, 2.3, 2.3, 1.9, 2.2, 2.5, 2.1, 2.7, 2.2, 2.0,
    1.8, 1.6, 1.0, 0.9, 1.2, 0.9, 1.1, 1.5, 1.0, 0.8,
    0.9, 0.8, 1.3, 1.5, 1.2, 2.0, 2.5, 2.9, 2.4, 1.6,
    2.3, 1.2, 1.5, 1.3, 1.1, 1.4, 1.0, 1.2, 1.6, 1.3,
    1.5, 1.2, 1.8, 1.4, 1.2, 1.5, 1.7, 2.1, 2.2, 2.5,
    2.4, 1.5, 2.0, 1.6, 1.9, 2.3, 1.5, 1.8, 2.1, 2.4,
    1.7, 2.0, 1.5, 1.9, 3.0, 1.8, 1.4, 2.0, 1.6, 1.9,
    2.5, 1.5, 1.3, 1.7, 1.4, 1.2, 1.6, 1.0, 1.3, 1.1,
    1.0, 1.3, 0.8, 1.0, 1.2, 0.9, 1.4, 1.2, 2.0, 2.4,
    2.5, 1.6, 1.4, 2.0, 2.4, 1.8, 3.5, 2.8, 2.0, 2.4,
    3.8, 2.4, 1.3, 1.0, 1.8, 1.4, 1.9, 1.2, 1.8, 1.5,
    1.4, 1.7, 2.3, 1.9, 2.4, 3.0, 3.1, 2.0, 1.5, 1.2,
    1.0, 0.9, 0.8, 1.3, 1.9, 1.1, 1.3, 1.0, 1.4, 1.5,
    1.2, 1.6, 2.2, 1.4, 1.7, 2.0, 1.6, 2.5, 3.0, 3.4,
    3.8, 4.6, 4.2, 3.6, 2.9, 4.3, 2.5, 2.0, 1.9, 1.7,
    1.5, 2.1, 1.4, 1.6, 2.0, 1.3, 1.8, 1.5, 2.9, 3.1,
    1.8, 1.4, 1.6, 1.2, 1.1, 1.0, 1.2, 1.5, 1.8, 1.6,
    2.0, 2.3, 1.7, 2.5, 2.0, 2.3, 3.5, 2.1, 1.2, 1.8,
    2.1, 1.3, 1.1, 2.2, 1.9, 1.6, 2.0, 2.7, 2.7, 1.9,
    1.8, 1.7, 2.2, 2.8, 1.7, 3.2]

fv20_all = [
    2.1, 1.4, 1.0, 1.1, 1.4, 1.0, 0.9, 0.7, 0.7, 0.6,
    1.2, 0.9, 1.3, 1.9, 2.0, 2.5, 5.0, 1.9, 0.9, 1.1,
    1.2, 0.8, 1.1, 0.7, 0.6, 0.6, 0.9, 1.1, 0.8, 1.2,
    1.0, 1.3, 1.5, 1.1, 0.9, 1.4, 0.8, 1.1, 1.5, 2.0,
    2.9, 2.8, 3.6, 2.5, 3.1, 2.2, 1.4, 1.3, 1.5, 1.7,
    1.6, 2.3, 3.4, 2.5, 2.8, 2.4, 2.2, 2.9, 2.3, 1.9,
    3.1, 2.3, 1.8, 1.9, 1.5, 1.3, 1.1, 1.4, 0.9, 1.2,
    0.8, 1.0, 0.8, 0.9, 0.8, 0.9, 0.8, 1.3, 2.3, 2.1,
    1.9, 1.3, 2.2, 2.0, 2.1, 2.3, 2.4, 3.6, 3.0, 2.6,
    2.1, 1.9, 0.9, 0.8, 1.1, 0.9, 1.4, 0.7, 0.8, 0.7,
    1.3, 1.1, 0.9, 1.2, 1.4, 1.0, 1.5, 2.9, 2.8, 1.3,
    2.6, 1.2, 1.0, 1.3, 0.9, 1.1, 1.0, 1.3, 1.1, 1.9,
    1.2, 1.0, 1.4, 1.1, 1.5, 1.2, 1.1, 1.8, 1.4, 1.3,
    2.4, 1.5, 1.2, 1.7, 1.4, 2.0, 1.3, 1.6, 1.2, 1.8,
    1.4, 1.6, 1.1, 1.5, 2.8, 1.4, 1.2, 1.7, 1.3, 1.5,
    2.4, 1.3, 1.0, 1.5, 1.2, 0.9, 1.3, 1.1, 0.8, 1.5,
    0.9, 0.7, 1.2, 0.8, 0.7, 1.1, 0.8, 1.3, 2.2, 2.2,
    1.3, 1.7, 1.2, 1.5, 1.4, 2.6, 1.9, 1.3, 1.1, 3.2,
    3.1, 1.7, 1.2, 1.5, 0.9, 1.4, 1.8, 1.6, 1.1, 1.5,
    1.7, 2.5, 2.6, 2.7, 2.6, 2.8, 2.0, 1.6, 1.3, 1.1,
    0.8, 1.4, 0.7, 1.0, 1.3, 0.9, 1.1, 0.8, 1.2, 1.4,
    1.0, 1.3, 1.5, 2.0, 1.4, 1.2, 1.8, 2.4, 2.8, 3.1,
    3.4, 3.5, 2.2, 2.5, 3.2, 2.1, 1.7, 1.9, 1.5, 1.7,
    1.3, 1.6, 1.4, 1.2, 1.7, 1.1, 1.5, 1.9, 2.8, 2.8,
    1.4, 1.7, 1.1, 1.5, 1.0, 1.0, 0.9, 1.2, 1.4, 1.3,
    1.7, 1.5, 1.9, 1.8, 2.1, 1.6, 2.9, 2.0, 1.1, 1.4,
    2.1, 1.0, 2.1, 1.7, 1.9, 1.4, 1.8, 1.5, 2.7, 1.9,
    1.6, 1.5, 2.5, 1.8, 1.5, 2.9]

fv20_20 = [
    2.2, 1.5, 1.1, 1.2, 1.5, 1.1, 1.0, 0.8, 0.7, 0.7,
    1.3, 1.0, 1.4, 2.0, 2.1, 2.6, 5.0, 2.0, 1.0, 1.2,
    1.3, 0.9, 1.2, 0.8, 0.7, 0.7, 1.0, 1.2, 0.9, 1.3,
    1.1, 1.4, 1.6, 1.2, 1.0, 1.5, 0.9, 1.2, 1.6, 2.1,
    3.0, 2.9, 3.9, 2.6, 3.2, 2.3, 1.5, 1.4, 1.6, 1.8,
    1.7, 2.4, 3.5, 2.6, 2.9, 2.5, 2.3, 3.1, 2.4, 2.0,
    3.2, 2.4, 1.9, 2.0, 1.6, 1.4, 1.2, 1.5, 1.0, 1.3,
    0.9, 1.1, 0.9, 1.0, 0.9, 1.0, 0.9, 1.4, 2.4, 2.2,
    2.0, 1.4, 2.3, 2.1, 2.2, 2.4, 2.5, 3.7, 3.1, 2.7,
    2.2, 2.0, 1.0, 0.9, 1.2, 1.0, 1.5, 0.8, 0.9, 0.8,
    1.4, 1.2, 1.0, 1.3, 1.5, 1.1, 1.6, 3.0, 2.9, 1.4,
    2.7, 1.3, 1.1, 1.4, 1.0, 1.2, 1.1, 1.4, 1.2, 2.0,
    1.3, 1.1, 1.5, 1.2, 1.6, 1.3, 1.2, 1.9, 1.5, 1.4,
    2.4, 1.6, 1.3, 1.8, 1.5, 2.1, 1.4, 1.7, 1.3, 1.9,
    1.5, 1.7, 1.2, 1.6, 2.8, 1.5, 1.3, 1.8, 1.4, 1.6,
    2.4, 1.4, 1.1, 1.6, 1.3, 1.0, 1.4, 1.2, 0.9, 1.6,
    1.0, 0.8, 1.3, 0.9, 0.7, 1.2, 0.9, 1.4, 2.3, 2.3,
    1.4, 1.8, 1.3, 1.6, 1.5, 2.7, 2.0, 1.4, 1.2, 3.0,
    3.0, 1.8, 1.3, 1.6, 1.0, 1.5, 1.9, 1.7, 1.2, 1.6,
    1.8, 2.6, 2.8, 2.9, 2.7, 2.9, 2.1, 1.7, 1.4, 1.2,
    0.9, 1.5, 0.8, 1.1, 1.4, 1.0, 1.2, 0.9, 1.3, 1.5,
    1.1, 1.4, 1.6, 2.1, 1.5, 1.3, 1.9, 2.5, 2.9, 3.2,
    3.5, 3.6, 2.3, 2.6, 3.3, 2.2, 1.8, 2.0, 1.6, 1.8,
    1.4, 1.7, 1.5, 1.3, 1.8, 1.2, 1.6, 2.0, 2.9, 2.9,
    1.5, 1.8, 1.2, 1.6, 1.1, 1.0, 1.0, 1.3, 1.5, 1.4,
    1.8, 1.6, 2.0, 1.9, 2.2, 1.7, 3.0, 2.1, 1.2, 1.5,
    2.2, 1.1, 2.2, 1.8, 2.0, 1.5, 1.9, 1.6, 2.8, 2.0,
    1.7, 1.6, 2.6, 1.9, 1.6, 3.0]

fv20_40 = [
    2.2, 1.5, 1.1, 1.2, 1.5, 1.1, 1.0, 0.8, 0.7, 0.7,
    1.3, 1.0, 1.4, 2.0, 2.1, 2.6, 5.0, 2.0, 1.0, 1.2,
    1.3, 0.9, 1.2, 0.8, 0.7, 0.7, 1.0, 1.2, 0.9, 1.3,
    1.1, 1.4, 1.6, 1.2, 1.0, 1.5, 0.9, 1.2, 1.6, 2.1,
    3.0, 2.9, 3.8, 2.6, 3.2, 2.3, 1.5, 1.4, 1.6, 1.8,
    1.7, 2.4, 3.7, 2.6, 3.0, 2.5, 2.3, 3.0, 2.4, 2.0,
    3.4, 2.4, 1.9, 2.0, 1.6, 1.4, 1.2, 1.5, 1.0, 1.3,
    0.9, 1.1, 0.9, 1.0, 0.9, 1.0, 0.9, 1.4, 2.4, 2.2,
    2.0, 1.4, 2.3, 2.1, 2.2, 2.4, 2.5, 3.7, 3.1, 2.7,
    2.2, 2.0, 1.0, 0.9, 1.2, 1.0, 1.5, 0.8, 0.9, 0.8,
    1.4, 1.2, 1.0, 1.3, 1.5, 1.1, 1.6, 3.0, 2.9, 1.4,
    2.7, 1.3, 1.1, 1.4, 1.0, 1.2, 1.1, 1.4, 1.2, 2.0,
    1.3, 1.1, 1.5, 1.2, 1.6, 1.3, 1.2, 1.9, 1.5, 1.4,
    2.4, 1.6, 1.3, 1.8, 1.5, 2.1, 1.4, 1.7, 1.3, 1.9,
    1.5, 1.7, 1.2, 1.6, 2.8, 1.5, 1.3, 1.8, 1.4, 1.6,
    2.4, 1.4, 1.1, 1.6, 1.3, 1.0, 1.4, 1.2, 0.9, 1.6,
    1.0, 0.8, 1.3, 0.9, 0.7, 1.2, 0.9, 1.4, 2.3, 2.3,
    1.4, 1.8, 1.3, 1.6, 1.5, 2.7, 2.0, 1.4, 1.2, 3.0,
    3.0, 1.8, 1.3, 1.6, 1.0, 1.5, 1.9, 1.7, 1.2, 1.6,
    1.8, 2.6, 3.0, 3.2, 3.0, 3.0, 2.1, 1.7, 1.4, 1.2,
    0.9, 1.5, 0.8, 1.1, 1.4, 1.0, 1.2, 0.9, 1.3, 1.5,
    1.1, 1.4, 1.6, 2.1, 1.5, 1.3, 1.9, 2.5, 2.9, 3.2,
    3.6, 3.7, 2.3, 2.6, 3.4, 2.2, 1.8, 2.0, 1.6, 1.8,
    1.4, 1.7, 1.5, 1.3, 1.8, 1.2, 1.6, 2.0, 2.9, 2.9,
    1.5, 1.8, 1.2, 1.6, 1.1, 1.0, 1.0, 1.3, 1.5, 1.4,
    1.8, 1.6, 2.0, 1.9, 2.2, 1.7, 3.0, 2.1, 1.2, 1.5,
    2.2, 1.1, 2.2, 1.8, 2.0, 1.5, 1.9, 1.6, 2.8, 2.0,
    1.7, 1.6, 2.6, 1.9, 1.6, 3.0]

fv20_60 = [
    2.2, 1.5, 1.1, 1.2, 1.5, 1.1, 1.0, 0.8, 0.7, 0.7,
    1.3, 1.0, 1.4, 2.0, 2.1, 2.6, 5.0, 1.9, 1.0, 1.2,
    1.3, 0.9, 1.2, 0.8, 0.7, 0.7, 1.0, 1.2, 0.9, 1.3,
    1.1, 1.4, 1.6, 1.2, 1.0, 1.5, 0.9, 1.2, 1.6, 2.1,
    3.1, 2.9, 3.6, 2.6, 3.1, 2.2, 1.5, 1.4, 1.6, 1.8,
    1.7, 2.4, 3.5, 2.5, 2.8, 2.4, 2.3, 3.0, 2.4, 2.0,
    3.1, 2.4, 1.9, 2.0, 1.6, 1.4, 1.2, 1.5, 1.0, 1.3,
    0.9, 1.1, 0.9, 1.0, 0.9, 1.0, 0.9, 1.4, 2.3, 2.2,
    2.0, 1.4, 2.3, 2.1, 2.2, 2.4, 2.5, 3.8, 3.2, 2.8,
    2.2, 2.0, 1.0, 0.9, 1.2, 1.0, 1.5, 0.8, 0.9, 0.8,
    1.4, 1.2, 1.0, 1.3, 1.5, 1.1, 1.6, 3.0, 2.9, 1.4,
    2.7, 1.3, 1.1, 1.4, 1.0, 1.2, 1.1, 1.4, 1.2, 2.0,
    1.3, 1.1, 1.5, 1.2, 1.6, 1.3, 1.2, 1.9, 1.5, 1.4,
    2.5, 1.6, 1.3, 1.8, 1.5, 2.1, 1.4, 1.7, 1.3, 1.9,
    1.5, 1.7, 1.2, 1.6, 2.8, 1.5, 1.3, 1.8, 1.4, 1.6,
    2.5, 1.4, 1.1, 1.6, 1.3, 1.0, 1.4, 1.2, 0.9, 1.6,
    1.0, 0.8, 1.3, 0.9, 0.7, 1.2, 0.9, 1.4, 2.3, 2.3,
    1.4, 1.8, 1.3, 1.6, 1.5, 2.7, 2.0, 1.4, 1.2, 3.0,
    3.0, 1.8, 1.3, 1.6, 1.0, 1.5, 1.9, 1.7, 1.2, 1.6,
    1.8, 2.7, 3.4, 4.1, 3.4, 3.3, 2.2, 1.7, 1.4, 1.2,
    0.9, 1.5, 0.8, 1.1, 1.4, 1.0, 1.2, 0.9, 1.3, 1.5,
    1.1, 1.4, 1.6, 2.2, 1.5, 1.3, 1.9, 2.6, 3.0, 3.3,
    3.8, 3.9, 2.4, 2.7, 3.5, 2.3, 1.8, 2.1, 1.6, 1.9,
    1.4, 1.7, 1.5, 1.3, 1.8, 1.2, 1.6, 2.0, 3.0, 3.0,
    1.5, 1.8, 1.2, 1.6, 1.1, 1.0, 1.0, 1.3, 1.5, 1.4,
    1.8, 1.6, 2.0, 1.9, 2.2, 1.7, 2.9, 2.1, 1.2, 1.5,
    2.3, 1.1, 2.2, 1.8, 2.0, 1.5, 1.9, 1.6, 2.8, 2.0,
    1.7, 1.6, 2.6, 1.9, 1.6, 3.0]

fv20_80 = [
    2.1, 1.5, 1.1, 1.2, 1.5, 1.1, 1.0, 0.8, 0.7, 0.7,
    1.3, 1.0, 1.4, 2.0, 2.1, 2.6, 5.0, 1.9, 1.0, 1.2,
    1.3, 0.9, 1.2, 0.8, 0.7, 0.7, 1.0, 1.2, 0.9, 1.3,
    1.1, 1.4, 1.6, 1.2, 1.0, 1.5, 0.9, 1.2, 1.6, 2.1,
    3.0, 2.8, 3.5, 2.5, 3.0, 2.2, 1.5, 1.4, 1.6, 1.8,
    1.7, 2.4, 3.2, 2.5, 2.7, 2.4, 2.3, 2.9, 2.4, 2.0,
    2.9, 2.4, 1.9, 2.0, 1.6, 1.4, 1.2, 1.5, 1.0, 1.3,
    0.9, 1.1, 0.9, 1.0, 0.9, 1.0, 0.9, 1.4, 2.3, 2.2,
    2.0, 1.4, 2.3, 2.1, 2.2, 2.4, 2.5, 3.7, 3.2, 2.8,
    2.2, 2.0, 1.0, 0.9, 1.2, 1.0, 1.5, 0.8, 0.9, 0.8,
    1.4, 1.2, 1.0, 1.3, 1.5, 1.1, 1.6, 2.9, 2.9, 1.4,
    2.7, 1.3, 1.1, 1.4, 1.0, 1.2, 1.1, 1.4, 1.2, 2.0,
    1.3, 1.1, 1.5, 1.2, 1.6, 1.3, 1.2, 1.9, 1.5, 1.4,
    2.5, 1.6, 1.3, 1.8, 1.5, 2.1, 1.4, 1.7, 1.3, 1.9,
    1.5, 1.7, 1.2, 1.6, 2.8, 1.5, 1.3, 1.8, 1.4, 1.6,
    2.5, 1.4, 1.1, 1.6, 1.3, 1.0, 1.4, 1.2, 0.9, 1.6,
    1.0, 0.8, 1.3, 0.9, 0.7, 1.2, 0.9, 1.4, 2.3, 2.3,
    1.4, 1.8, 1.3, 1.6, 1.5, 2.6, 2.0, 1.4, 1.2, 2.9,
    2.9, 1.8, 1.3, 1.6, 1.0, 1.5, 1.9, 1.7, 1.2, 1.6,
    1.8, 2.6, 3.5, 4.3, 3.5, 3.4, 2.2, 1.7, 1.4, 1.2,
    0.9, 1.5, 0.8, 1.1, 1.4, 1.0, 1.2, 0.9, 1.3, 1.5,
    1.1, 1.4, 1.6, 2.2, 1.5, 1.3, 1.9, 2.6, 3.0, 3.3,
    3.7, 3.7, 2.4, 2.7, 3.5, 2.3, 1.8, 2.1, 1.6, 1.9,
    1.4, 1.7, 1.5, 1.3, 1.8, 1.2, 1.6, 2.0, 2.9, 3.0,
    1.5, 1.8, 1.2, 1.6, 1.1, 1.0, 1.0, 1.3, 1.5, 1.4,
    1.8, 1.6, 2.0, 1.9, 2.2, 1.7, 2.9, 2.1, 1.2, 1.5,
    2.3, 1.1, 2.2, 1.8, 2.0, 1.5, 1.9, 1.6, 2.8, 2.0,
    1.7, 1.6, 2.6, 1.9, 1.6, 2.9]

#%% Panel definitions

W, H = 1230, 673      # window size, all positions below are window pixels
OFF = 8               # page body margin that shifts the plot div
FW, FH = W - OFF, H - OFF
FONT = 'Liberation Sans, Arial, Helvetica, sans-serif'
AXCOL = '#262626'

titles = ['FA 8mer', 'FV 8mer', 'AA 20mer', 'FA 20mer', 'FV 20mer']

# axes boxes in window pixels: left, right, top, bottom
boxes = [(57, 383, 40, 262),
         (468, 795, 40, 262),
         (884, 1211, 41, 263),
         (53, 379, 395, 617),
         (473, 800, 395, 617)]
xlabel_gap = [44, 44, 44, 42, 42]

series = [
    [('All', fa8_all), ('All-20ns', fa8_20), ('All-40ns', fa8_40)],
    [('All', fv8_all), ('All-20ns', fv8_20), ('All-40ns', fv8_40)],
    [('All', aa20_all), ('All-20ns', aa20_20), ('All-40ns', aa20_40)],
    [('All', fa20_all), ('All-20ns', fa20_20), ('All-40ns', fa20_40),
     ('All-60ns', fa20_60), ('All-80ns', fa20_80)],
    [('All', fv20_all), ('All-20ns', fv20_20), ('All-40ns', fv20_40),
     ('All-60ns', fv20_60), ('All-80ns', fv20_80)],
]

colors = {'All': '#0072BD', 'All-20ns': '#D95319', 'All-40ns': '#EDB120',
          'All-60ns': '#00FFFF', 'All-80ns': '#7E2F8E'}
msize = {'All': 7.5, 'All-20ns': 6, 'All-40ns': 6, 'All-60ns': 5.5, 'All-80ns': 5.5}


def fx(px):
    return (px - OFF) / FW


def fy(py):
    return 1 - (py - OFF) / FH


#%% Build figure

fig = go.Figure()
annotations = []
shapes = []
legends = {}
leg_n = 1
COLW = 108  # approx width of one legend column in px
LEGH = 82   # approx height of a 3-row legend in px

for i, (title, box, ser) in enumerate(zip(titles, boxes, series)):
    l, r, t, b = box
    ax = '' if i == 0 else str(i + 1)

    if len(ser) == 3:
        leg_names = ['legend' if leg_n == 1 else 'legend%d' % leg_n] * 3
        legends[leg_names[0]] = dict(x=fx(r), y=fy(t), xanchor='right', yanchor='top',
                                     bgcolor='white', bordercolor=AXCOL, borderwidth=1)
        leg_n += 1
    else:
        la = 'legend%d' % leg_n
        lb = 'legend%d' % (leg_n + 1)
        leg_names = [la, la, la, lb, lb]
        legends[la] = dict(x=fx(r - COLW), y=fy(t), xanchor='right', yanchor='top',
                           bgcolor='rgba(0,0,0,0)', borderwidth=0)
        legends[lb] = dict(x=fx(r), y=fy(t), xanchor='right', yanchor='top',
                           bgcolor='rgba(0,0,0,0)', borderwidth=0)
        shapes.append(dict(type='rect', xref='paper', yref='paper',
                           x0=fx(r - 2 * COLW), x1=fx(r), y0=fy(t + LEGH), y1=fy(t),
                           line=dict(color=AXCOL, width=1), fillcolor='white', layer='above'))
        leg_n += 2

    for (name, vals), leg in zip(ser, leg_names):
        is_open = name == 'All-80ns'
        fig.add_trace(go.Scatter(
            x=list(range(1, len(vals) + 1)), y=vals,
            mode='lines+markers', name=name,
            xaxis='x' + ax, yaxis='y' + ax, legend=leg,
            line=dict(color=colors[name], width=1.5),
            marker=dict(size=msize[name], color=colors[name],
                        symbol='circle-open' if is_open else 'circle',
                        line=dict(width=1.3 if is_open else 0, color=colors[name])),
            hoverinfo='x+y'))

    axis_common = dict(showline=True, linecolor=AXCOL, linewidth=1, mirror='ticks',
                       ticks='inside', ticklen=4, tickcolor=AXCOL, showgrid=False,
                       zeroline=False, automargin=False,
                       tickfont=dict(family=FONT, size=20, color=AXCOL))
    fig.update_layout(**{
        'xaxis' + ax: dict(domain=[fx(l), fx(r)], range=[0, 300], tickvals=[0, 100, 200, 300],
                           anchor='y' + ax, **axis_common),
        'yaxis' + ax: dict(domain=[fy(b), fy(t)], range=[0, 8], tickvals=[0, 2, 4, 6, 8],
                           anchor='x' + ax, **axis_common),
    })

    annotations.append(dict(text='<b>%s</b>' % title, x=fx((l + r) / 2), y=fy(t - 17),
                            xref='paper', yref='paper', showarrow=False,
                            xanchor='center', yanchor='middle',
                            font=dict(family=FONT, size=23, color='black')))
    annotations.append(dict(text='Residue index', x=fx((l + r) / 2), y=fy(b + xlabel_gap[i]),
                            xref='paper', yref='paper', showarrow=False,
                            xanchor='center', yanchor='middle',
                            font=dict(family=FONT, size=22, color=AXCOL)))
    annotations.append(dict(text='RMSF (Å)', x=fx(l - 33), y=fy((t + b) / 2),
                            xref='paper', yref='paper', showarrow=False, textangle=-90,
                            xanchor='center', yanchor='middle',
                            font=dict(family=FONT, size=22, color=AXCOL)))

for name, leg in legends.items():
    leg.update(font=dict(family=FONT, size=17, color='black'), tracegroupgap=0,
               itemwidth=30, orientation='v')
    fig.update_layout(**{name: leg})

fig.update_layout(width=FW, height=FH,
                  margin=dict(l=0, r=0, t=0, b=0, pad=0, autoexpand=False),
                  paper_bgcolor='white', plot_bgcolor='white',
                  font=dict(family=FONT), annotations=annotations, shapes=shapes)

fig.write_html("out.html")
